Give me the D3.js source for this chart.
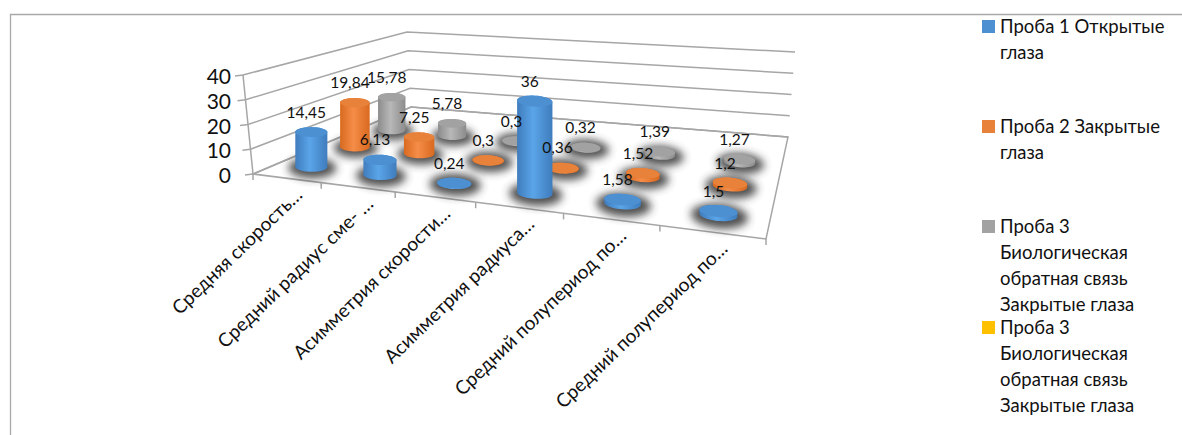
<!DOCTYPE html>
<html>
<head>
<meta charset="utf-8">
<script src="https://cdn.jsdelivr.net/npm/d3@7"></script>
<style>
	html, body { margin: 0; padding: 0; background: #fff; }
	svg { display: block; }
	text { font-family: "Lato", "Open Sans", sans-serif; fill: #111; }
</style>
</head>
<body>
<div id="chart"></div>
<script>
var categories = ["Средняя скорость…",
					"Средний радиус сме- …",
					"Асимметрия скорости…",
					"Асимметрия радиуса…",
					"Средний полупериод по…",
					"Средний полупериод по…"];
var seriesKeys = ["open", "closed", "biofeedback", "biofeedback2"];
var openEyes = [14.45, 6.13, 0.24, 36, 1.58, 1.5];
var closedEyes = [19.84, 7.25, 0.3, 0.36, 1.52, 1.2];
var biofeedback = [15.78, 5.78, 0.3, 0.32, 1.39, 1.27];
var biofeedbackEmpty = [];
var seriesValues = [openEyes, closedEyes, biofeedback, biofeedbackEmpty];
var yTicks = [0, 10, 20, 30, 40];
var legendLines = [["Проба 1 Открытые", "глаза"],
					["Проба 2 Закрытые", "глаза"],
					["Проба 3", "Биологическая", "обратная связь", "Закрытые глаза"],
					["Проба 3", "Биологическая", "обратная связь", "Закрытые глаза"]];
var seriesColors = [{edge: "#3f7cbd", mid: "#5aa5e8", top: "#4c90d2"},
					{edge: "#d9691f", mid: "#f58d48", top: "#e8813a"},
					{edge: "#8c8c8c", mid: "#b8b8b8", top: "#a2a2a2"},
					{edge: "#e0a800", mid: "#ffc000", top: "#ffc000"}];

var w = 1182;
var h = 435;

var svg = d3.select("#chart").append("svg")
			.attr("width", w)
			.attr("height", h);
var defs = svg.append("defs");

defs.append("filter").attr("id", "soft")
	.attr("x", "-50%").attr("y", "-120%").attr("width", "200%").attr("height", "340%")
	.append("feGaussianBlur").attr("stdDeviation", 4.4);

seriesColors.forEach(function(c, i){
	var g = defs.append("linearGradient").attr("id", "body" + i);
	g.append("stop").attr("offset", "0%").attr("stop-color", c.edge);
	g.append("stop").attr("offset", "45%").attr("stop-color", c.mid);
	g.append("stop").attr("offset", "100%").attr("stop-color", c.edge);
});

// Map the unit square onto a screen quad (p0 front left, p1 front right, p2 back right, p3 back left)
function quadMap(p){
	var dx1 = p[1][0] - p[2][0], dx2 = p[3][0] - p[2][0], sx = p[0][0] - p[1][0] + p[2][0] - p[3][0];
	var dy1 = p[1][1] - p[2][1], dy2 = p[3][1] - p[2][1], sy = p[0][1] - p[1][1] + p[2][1] - p[3][1];
	var det = dx1 * dy2 - dx2 * dy1;
	var g = (sx * dy2 - dx2 * sy) / det;
	var k = (dx1 * sy - sx * dy1) / det;
	return function(s, t){
		var d = g * s + k * t + 1;
		return [((p[1][0] - p[0][0] + g * p[1][0]) * s + (p[3][0] - p[0][0] + k * p[3][0]) * t + p[0][0]) / d,
				((p[1][1] - p[0][1] + g * p[1][1]) * s + (p[3][1] - p[0][1] + k * p[3][1]) * t + p[0][1]) / d];
	};
}

var floorMap = quadMap([[253, 174], [766, 239], [788, 137], [411, 107]]);
var ceilMap = quadMap([[243, 75], [775, 130], [795, 52], [407, 32]]);

var xBand = d3.scaleBand().domain(d3.range(categories.length)).range([0, 1]);
var zBand = d3.scaleBand().domain(seriesKeys).range([0, 1]);
var yScale = d3.scaleLinear().domain([0, 40]).range([0, 1]);
// columns get wider towards the viewer
var radiusScale = d3.scaleLinear().domain([130, 214]).range([13.7, 19]);
var tiltScale = d3.scaleLinear().domain([0, 1]).range([0, 0.1]);

function project(s, t, v){
	var a = floorMap(s, t), b = ceilMap(s, t), f = yScale(v);
	return [a[0] + (b[0] - a[0]) * f, a[1] + (b[1] - a[1]) * f];
}

function ellipsePoints(c, rx, ry, tilt){
	return d3.range(0, 2 * Math.PI, Math.PI / 24).map(function(a){
		var x = rx * Math.cos(a), y = ry * Math.sin(a);
		return [c[0] + x * Math.cos(tilt) - y * Math.sin(tilt),
				c[1] + x * Math.sin(tilt) + y * Math.cos(tilt)];
	});
}

var line = d3.line();
function closed(pts){ return line(pts) + "Z"; }

// Frame round the chart
svg.append("path")
	.attr("d", "M10.5," + h + "V14.5H" + w)
	.attr("fill", "none").attr("stroke", "#a9a9a9").attr("stroke-width", 1.3);

var axisColor = "#a6a6a6";
var grid = svg.append("g").attr("fill", "none").attr("stroke", axisColor).attr("stroke-width", 1.5);

// Wall gridlines: along the left wall, then along the back wall
yTicks.forEach(function(v){
	grid.append("path").attr("d", line([project(0, 0, v), project(0, 1, v), project(1, 1, v)]));
	var p = project(0, 0, v);
	grid.append("path").attr("d", line([[p[0] - 8, p[1] + 1], p]));
	svg.append("text")
		.attr("x", 231)
		.attr("y", p[1] + 1.5)
		.attr("dy", "0.36em")
		.attr("text-anchor", "end")
		.style("font-size", "21px")
		.text(v);
});
grid.append("path").attr("d", line([project(0, 0, 40), project(0, 0, 0)]));
// Floor outline
grid.append("path").attr("d", closed([floorMap(0, 0), floorMap(1, 0), floorMap(1, 1), floorMap(0, 1)]));

// Ticks and labels under the front edge
d3.range(categories.length + 1).forEach(function(i){
	var p = floorMap(i / categories.length, 0);
	grid.append("path").attr("d", line([p, [p[0], p[1] + 6]]));
});
svg.selectAll(".catLabel").data(categories).enter().append("text")
	.attr("class", "catLabel")
	.attr("text-anchor", "end")
	.attr("transform", function(d, i){
		var p = floorMap(xBand(i) + xBand.bandwidth() / 2, 0);
		return "translate(" + (p[0] + 17) + "," + (p[1] + 18) + ") rotate(-44)";
	})
	.style("font-size", "19px")
	.text(function(d){ return d; });

// Collect marks, back row first so nearer columns paint over farther ones
var marks = [];
seriesValues.forEach(function(values, row){
	values.forEach(function(v, i){
		marks.push({row: row, col: i, value: v});
	});
});
marks.sort(function(a, b){ return d3.descending(a.row, b.row) || d3.ascending(a.col, b.col); });

marks.forEach(function(d){
	d.s = xBand(d.col) + xBand.bandwidth() / 2;
	d.t = zBand(seriesKeys[d.row]) + zBand.bandwidth() / 2;
	d.base = project(d.s, d.t, 0);
	// columns stand straight up on screen
	d.top = [d.base[0], project(d.s, d.t, d.value)[1]];
	d.rx = radiusScale(d.base[1]);
	d.ry = d.rx * 0.31;
	d.tilt = tiltScale(d.s);
});

var shadows = svg.append("g");
marks.forEach(function(d){
	shadows.append("path")
		.attr("d", closed(ellipsePoints([d.base[0] + 1, d.base[1] + 1], d.rx * 1.5, d.ry * 2.1, d.tilt)))
		.attr("fill", "#333")
		.attr("opacity", 0.85)
		.attr("filter", "url(#soft)");
});

var columns = svg.append("g");
marks.forEach(function(d){
	var c = seriesColors[d.row];
	var lower = ellipsePoints(d.base, d.rx, d.ry, d.tilt);
	var upper = ellipsePoints(d.top, d.rx, d.ry, d.tilt);
	columns.append("path")
		.attr("d", closed(d3.polygonHull(lower.concat(upper))))
		.attr("fill", "url(#body" + d.row + ")");
	columns.append("path")
		.attr("d", closed(upper))
		.attr("fill", c.top);
});

// Value labels use a decimal comma
var valueFormat = d3.formatLocale({decimal: ",", thousands: " ", grouping: [3], currency: ["", ""]}).format(".4~g");
svg.selectAll(".valueLabel").data(marks).enter().append("text")
	.attr("class", "valueLabel")
	.attr("text-anchor", "middle")
	.attr("x", function(d){ return d.top[0] - 5; })
	.attr("y", function(d){ return d.top[1] - 20; })
	.attr("dy", "0.36em")
	.style("font-size", "15.5px")
	.text(function(d){ return valueFormat(d.value); });

// Legend
var legendTop = [26, 126, 226, 327];
var legend = svg.selectAll(".legendItem").data(legendLines).enter().append("g")
	.attr("class", "legendItem")
	.attr("transform", function(d, i){ return "translate(982," + legendTop[i] + ")"; });
legend.append("rect")
	.attr("y", -6)
	.attr("width", 13)
	.attr("height", 13)
	.attr("fill", function(d, i){ return seriesColors[i].top; });
legend.append("text")
	.style("font-size", "18.5px")
	.selectAll("tspan").data(function(d){ return d; }).enter().append("tspan")
	.attr("x", 18)
	.attr("y", function(d, i){ return i * 26; })
	.attr("dy", "0.36em")
	.text(function(d){ return d; });
</script>
</body>
</html>
